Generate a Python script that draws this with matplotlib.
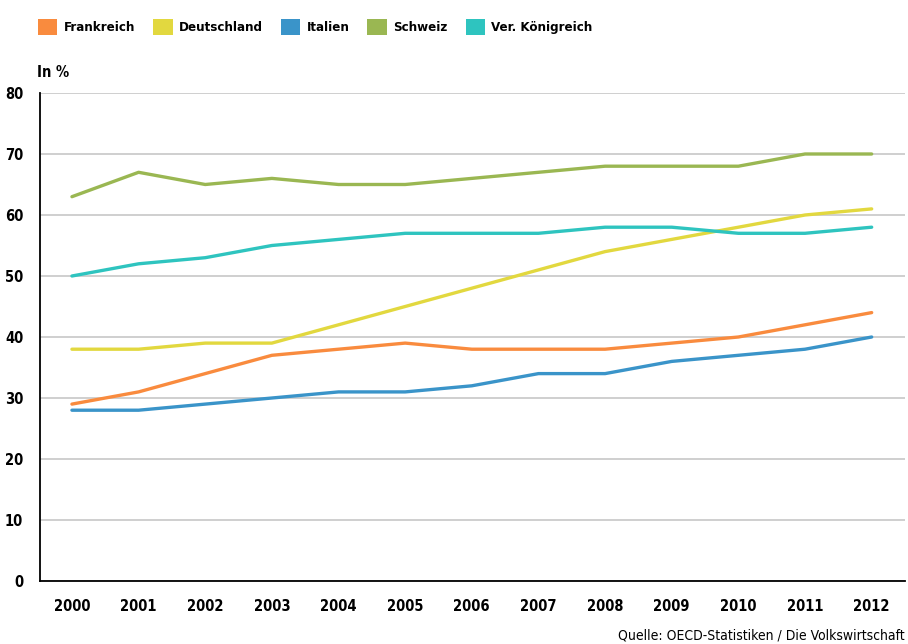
import matplotlib
matplotlib.use("Agg")
import matplotlib.pyplot as plt
from matplotlib import font_manager as fm
from matplotlib.patches import Patch

years = list(range(2000, 2013))
frankreich = [29, 31, 34, 37, 38, 39, 38, 38, 38, 39, 40, 42, 44]
deutschland = [38, 38, 39, 39, 42, 45, 48, 51, 54, 56, 58, 60, 61]
italien = [28, 28, 29, 30, 31, 31, 32, 34, 34, 36, 37, 38, 40]
schweiz = [63, 67, 65, 66, 65, 65, 66, 67, 68, 68, 68, 70, 70]
uk = [50, 52, 53, 55, 56, 57, 57, 57, 58, 58, 57, 57, 58]

names = ["Frankreich", "Deutschland", "Italien", "Schweiz", "Ver. Königreich"]
colors = ["#F98B3E", "#E2D83F", "#3A94C9", "#9AB752", "#2EC4BF"]
yticks = [0, 10, 20, 30, 40, 50, 60, 70, 80]


def _font(tag, size):
    # pick the condensed DejaVu file directly, font matching is flaky here
    for f in fm.fontManager.ttflist:
        if f.fname.endswith(tag):
            return fm.FontProperties(fname=f.fname, size=size)
    return fm.FontProperties(family="DejaVu Sans", size=size,
                             stretch="condensed",
                             weight="bold" if "Bold" in tag else "normal")


bold = lambda s: _font("DejaVuSansCondensed-Bold.ttf", s)
regular = lambda s: _font("DejaVuSansCondensed.ttf", s)

fig = plt.figure(figsize=(9.08, 6.44), dpi=100)
ax = fig.add_axes([0.044, 0.0978, 0.9527, 0.7578])

series = [frankreich, deutschland, italien, schweiz, uk]
for vals, c in zip(series, colors):
    ax.plot(years, vals, color=c, lw=2.4, solid_capstyle="round", zorder=3)

ax.set_xlim(1999.52, 2012.5)
ax.set_ylim(0, 80)
ax.set_yticks(yticks)
ax.set_xticks(years)
ax.tick_params(length=0, pad=13)
ax.tick_params(axis="y", pad=12)
for lab in ax.get_xticklabels() + ax.get_yticklabels():
    lab.set_fontproperties(bold(10.5))
ax.grid(axis="y", color="#cccccc", lw=1.3, zorder=0)
for s in ["top", "right"]:
    ax.spines[s].set_visible(False)
ax.spines["left"].set_linewidth(1.3)
ax.spines["bottom"].set_linewidth(1.3)

fig.text(0.041, 0.888, "In %", fontproperties=bold(10.5), va="center")

handles = [Patch(facecolor=c, edgecolor="none") for c in colors]
leg = fig.legend(handles, names, loc="center left", bbox_to_anchor=(0.0415, 0.958),
                 ncol=5, frameon=False, handlelength=1.5, handleheight=1.5,
                 handletextpad=0.45, columnspacing=1.37,
                 borderpad=0, borderaxespad=0,
                 prop=bold(9.5))

fig.text(0.996, 0.003, "Quelle: OECD-Statistiken / Die Volkswirtschaft",
         fontproperties=regular(10), ha="right", va="bottom")

fig.savefig("out.png", dpi=100)
